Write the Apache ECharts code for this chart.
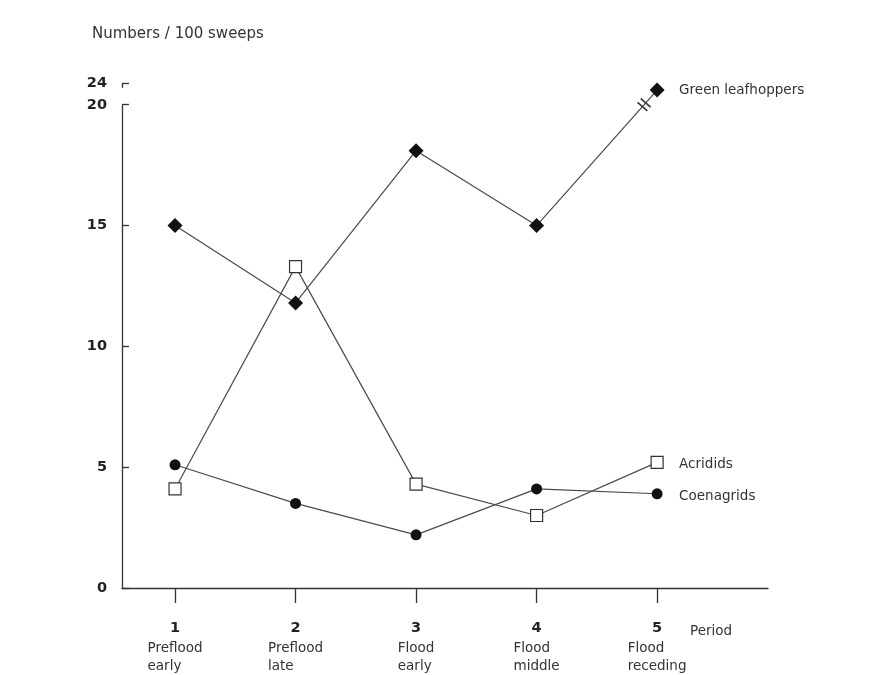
<!DOCTYPE html>
<html><head><meta charset="utf-8">
<script src="https://cdn.jsdelivr.net/npm/echarts@6/dist/echarts.min.js"></script>
<style>html,body{margin:0;padding:0;background:#fff}#c{width:877px;height:675px}</style>
</head><body><div id="c"></div>
<script>
const periods = [1, 2, 3, 4, 5];
const periodNames = [['Preflood','early'],['Preflood','late'],['Flood','early'],['Flood','middle'],['Flood','receding']];
const leafhoppers = [15.0, 11.8, 18.1, 15.0, 22.7];
const acridids = [4.1, 13.3, 4.3, 3.0, 5.2];
const coenagrids = [5.1, 3.5, 2.2, 4.1, 3.9];
const yTickLabels = [0, 5, 10, 15, 20, 24];

// broken axis: range 20-24 compressed
const BREAK = 20, TOP = 24, TOP_PLOT = 20.9;
function sc(v){ return v <= BREAK ? v : BREAK + (v - BREAK) * (TOP_PLOT - BREAK) / (TOP - BREAK); }
const yTickPlot = yTickLabels.map(sc);
const pair = (arr) => arr.map((v, i) => [periods[i], sc(v)]);

// where the leafhopper line crosses the break
const lh = pair(leafhoppers);
const a = lh[3], b = lh[4];
const t = (BREAK - a[1]) / (b[1] - a[1]);
const breakPt = [a[0] + t * (b[0] - a[0]), BREAK];

const FONT = 'DejaVu Sans';
const XMIN = 0.56, XMAX = 5.92;
const lineStyle = {color: '#4a4a4a', width: 1.2};
const endLabel = {show: true, formatter: '{a}', color: '#333', fontSize: 13.5, fontFamily: FONT, distance: 22};

const chart = echarts.init(document.getElementById('c'));
chart.setOption({
  backgroundColor: '#fff',
  animation: false,
  title: [
    {text: 'Numbers / 100 sweeps', left: 87, top: 22, textStyle: {fontSize: 15, fontWeight: 'normal', color: '#333', fontFamily: FONT}},
    {text: 'Period', left: 685, top: 619, textStyle: {fontSize: 13.5, fontWeight: 'normal', color: '#333', fontFamily: FONT}}
  ],
  grid: {left: 122, right: 109, top: 83, bottom: 87},
  xAxis: {
    type: 'value', min: XMIN, max: XMAX,
    axisLine: {show: true, onZero: false, lineStyle: {color: '#333', width: 1.3}},
    axisTick: {show: true, customValues: periods, length: 15, lineStyle: {color: '#333', width: 1.3}},
    splitLine: {show: false},
    axisLabel: {
      customValues: periods, margin: 30,
      formatter: (v) => { const i = periods.indexOf(Math.round(v)); return '{n|' + v + '}\n{c|' + periodNames[i][0] + '}\n{c|' + periodNames[i][1] + '}'; },
      rich: {
        n: {fontSize: 14.5, fontWeight: 'bold', color: '#222', align: 'center', lineHeight: 21, fontFamily: FONT},
        c: {fontSize: 13.5, color: '#333', align: 'left', lineHeight: 18, fontFamily: FONT}
      }
    }
  },
  yAxis: {
    type: 'value', min: 0, max: TOP_PLOT,
    axisLine: {show: false},
    axisTick: {show: true, inside: true, length: 7, customValues: yTickPlot, lineStyle: {color: '#333', width: 1.3}},
    splitLine: {show: false},
    axisLabel: {
      customValues: yTickPlot, margin: 15,
      formatter: (v) => { const i = yTickPlot.findIndex(p => Math.abs(p - v) < 1e-6); return i >= 0 ? String(yTickLabels[i]) : ''; },
      fontSize: 14.5, fontWeight: 'bold', color: '#222', fontFamily: FONT
    }
  },
  series: [
    {
      name: 'Green leafhoppers', type: 'line', data: lh,
      symbol: 'diamond', symbolSize: 15, itemStyle: {color: '#111'}, lineStyle,
      endLabel, emphasis: {disabled: true}, clip: false, z: 3,
      markPoint: {
        silent: true, symbol: 'path://M0,0h14v1.6h-14z M0,5h14v1.6h-14z', symbolSize: [13, 6.5], symbolKeepAspect: false,
        symbolRotate: -41, itemStyle: {color: '#333'}, label: {show: false},
        data: [{coord: breakPt}]
      }
    },
    {
      name: 'Acridids', type: 'line', data: pair(acridids),
      symbol: 'rect', symbolSize: 12, itemStyle: {color: '#fff', borderColor: '#333', borderWidth: 1.2}, lineStyle,
      endLabel: Object.assign({}, endLabel, {offset: [0, 2]}), emphasis: {disabled: true}, z: 4,
      markLine: {
        silent: true, symbol: 'none', label: {show: false},
        lineStyle: {color: '#333', width: 1.3, type: 'solid'},
        data: [
          [{coord: [XMIN, 0]}, {coord: [XMIN, yTickPlot[4]]}],
          [{coord: [XMIN, 20.7]}, {coord: [XMIN, yTickPlot[5]]}]
        ]
      }
    },
    {
      name: 'Coenagrids', type: 'line', data: pair(coenagrids),
      symbol: 'circle', symbolSize: 11, itemStyle: {color: '#111'}, lineStyle,
      endLabel: Object.assign({}, endLabel, {offset: [0, 3]}), emphasis: {disabled: true}, z: 3
    }
  ]
});
</script></body></html>
